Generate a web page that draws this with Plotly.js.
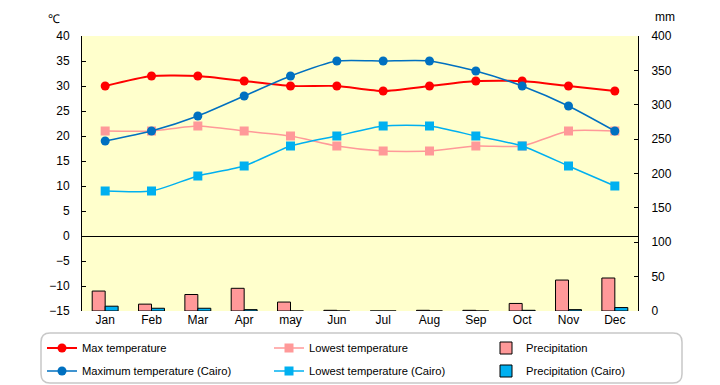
<!DOCTYPE html>
<html>
<head>
<meta charset="utf-8">
<script src="https://cdn.plot.ly/plotly-3.0.1.min.js"></script>
<style>html,body{margin:0;padding:0;background:#fff;}#chart{width:720px;height:385px;}</style>
</head>
<body>
<div id="chart"></div>
<script>
var months = ["Jan","Feb","Mar","Apr","may","Jun","Jul","Aug","Sep","Oct","Nov","Dec"];
var maxTemp = [30,32,32,31,30,30,29,30,31,31,30,29];
var lowTemp = [21,21,22,21,20,18,17,17,18,18,21,21];
var precip = [29,10,24,33,13,1,0,1,1,11,45,48];
var maxTempCairo = [19,21,24,28,32,35,35,35,33,30,26,21];
var lowTempCairo = [9,9,12,14,18,20,22,22,20,18,14,10];
var precipCairo = [7,4,4,2,0,0,0,0,0,1,2,5];

var FONT = "Liberation Sans, Arial, sans-serif";

var traces = [
  {type:"bar", x:months, y:precip, yaxis:"y2", name:"Precipitation", legend:"legend3",
   marker:{color:"#FF9999", line:{color:"#000", width:1}}},
  {type:"bar", x:months, y:precipCairo, yaxis:"y2", name:"Precipitation (Cairo)", legend:"legend6",
   marker:{color:"#00B0F0", line:{color:"#000", width:1}}},
  {type:"scatter", mode:"lines+markers", x:months, y:maxTemp, name:"Max temperature", legend:"legend",
   line:{color:"#FF0000", width:2, shape:"spline", smoothing:0.6}, marker:{symbol:"circle", size:9, color:"#FF0000"}},
  {type:"scatter", mode:"lines+markers", x:months, y:lowTemp, name:"Lowest temperature", legend:"legend2",
   line:{color:"#FF9999", width:1.5, shape:"spline", smoothing:0.6}, marker:{symbol:"square", size:9, color:"#FF9999"}},
  {type:"scatter", mode:"lines+markers", x:months, y:maxTempCairo, name:"Maximum temperature (Cairo)", legend:"legend4",
   line:{color:"#0070C0", width:1.5, shape:"spline", smoothing:0.6}, marker:{symbol:"circle", size:9, color:"#0070C0"}},
  {type:"scatter", mode:"lines+markers", x:months, y:lowTempCairo, name:"Lowest temperature (Cairo)", legend:"legend5",
   line:{color:"#00B0F0", width:1.5, shape:"spline", smoothing:0.6}, marker:{symbol:"square", size:9, color:"#00B0F0"}}
];

var W = 556, H = 275;
function px2x(p){ return (p-82)/W; }
function py2y(p){ return (311-p)/H; }
function leg(xp, yp){
  return {x:px2x(xp), y:py2y(yp), xanchor:"left", yanchor:"middle", orientation:"h",
    bgcolor:"rgba(0,0,0,0)", borderwidth:0, font:{family:FONT, size:11.2, color:"#000"}};
}
var c1 = 42, c2 = 269, c3 = 486, r1 = 348, r2 = 371;

// rounded legend box path
var bx0 = px2x(41), bx1 = px2x(682), by0 = py2y(333), by1 = py2y(383);
var rx = 9/W, ry = 9/H;
var boxPath = "M " + (bx0+rx) + " " + by0 + " L " + (bx1-rx) + " " + by0 +
  " Q " + bx1 + " " + by0 + " " + bx1 + " " + (by0-ry) +
  " L " + bx1 + " " + (by1+ry) + " Q " + bx1 + " " + by1 + " " + (bx1-rx) + " " + by1 +
  " L " + (bx0+rx) + " " + by1 + " Q " + bx0 + " " + by1 + " " + bx0 + " " + (by1+ry) +
  " L " + bx0 + " " + (by0-ry) + " Q " + bx0 + " " + by0 + " " + (bx0+rx) + " " + by0 + " Z";

var layout = {
  width:720, height:385,
  margin:{l:82, r:82, t:36, b:74, pad:0, autoexpand:false},
  paper_bgcolor:"#FFFFFF", plot_bgcolor:"#FFFFCC",
  font:{family:FONT, size:12, color:"#000"},
  barmode:"group", bargap:0.44, bargroupgap:0,
  xaxis:{type:"category", range:[-0.5, 11.5], showgrid:false, showline:false, zeroline:false, ticks:"",
    tickfont:{size:12}, automargin:false},
  yaxis:{range:[-15,40], dtick:5, tick0:0, showgrid:false, showline:true, linecolor:"#000", linewidth:1,
    ticks:"inside", ticklen:4, tickcolor:"#000", zeroline:true, zerolinecolor:"#000", zerolinewidth:1,
    tickfont:{size:12}, ticklabelstandoff:9, automargin:false},
  yaxis2:{range:[0,400], dtick:50, tick0:0, overlaying:"y", side:"right", showgrid:false, showline:true,
    linecolor:"#000", linewidth:1, ticks:"inside", ticklen:4, tickcolor:"#000", zeroline:false, tickfont:{size:12},
    ticklabelstandoff:10, automargin:false},
  showlegend:true,
  legend:leg(c1, r1), legend2:leg(c2, r1), legend3:leg(c3, r1),
  legend4:leg(c1, r2), legend5:leg(c2, r2), legend6:leg(c3, r2),
  shapes:[{type:"path", xref:"paper", yref:"paper", path:boxPath, line:{color:"#C8C8C8", width:1.5}, fillcolor:"rgba(0,0,0,0)"}],
  annotations:[
    {text:"℃", xref:"paper", yref:"paper", x:px2x(54), y:py2y(19), xanchor:"center", yanchor:"middle", showarrow:false, font:{size:12}},
    {text:"mm", xref:"paper", yref:"paper", x:px2x(665), y:py2y(17), xanchor:"center", yanchor:"middle", showarrow:false, font:{size:12}}
  ]
};

Plotly.newPlot("chart", traces, layout, {displayModeBar:false, staticPlot:true});
</script>
</body>
</html>
